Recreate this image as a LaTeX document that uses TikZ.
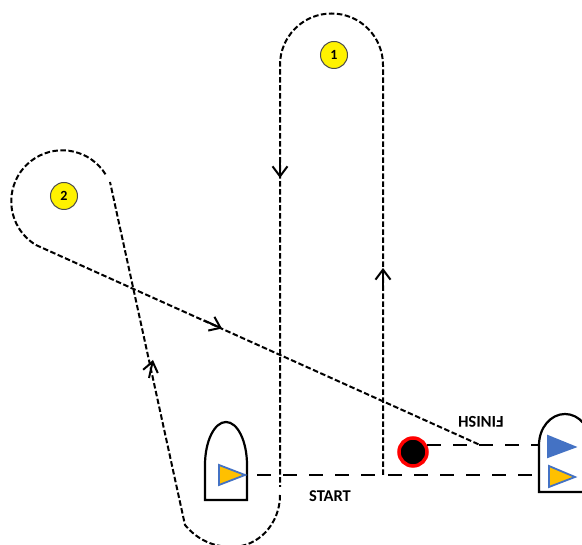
\documentclass[tikz,border=0pt]{standalone}
\usepackage{fontspec}
\setmainfont{Carlito}
\usetikzlibrary{arrows.meta}
\definecolor{flagblue}{HTML}{4472C4}
\definecolor{flagorange}{HTML}{FFC000}
\definecolor{markred}{HTML}{FF0000}

\begin{document}
\begin{tikzpicture}[x=1pt, y=1pt, >={Straight Barb[length=10pt, width=15pt, line width=2pt]},
    course/.style={draw=black, line width=2pt, dash pattern=on 5.5pt off 2.5pt},
    startline/.style={draw=black, line width=2.2pt, dash pattern=on 14pt off 12pt},
    barb/.style={->, draw=black, line width=2pt},
    boat/.style={draw=black, line width=2.2pt, fill=white},
    flag/.style={draw=flagblue, line width=1.8pt, line join=miter},
    buoy/.style={circle, draw=black!70, line width=1pt, fill=yellow, minimum size=27pt, inner sep=0pt, font=\bfseries\fontsize{14}{14}\selectfont},
    pinend/.style={circle, draw=markred, line width=3.5pt, fill=black, minimum size=28pt, inner sep=0pt},
    lab/.style={font=\bfseries\fontsize{16.5}{16.5}\selectfont, inner sep=0pt}]
    \useasboundingbox (0,0) rectangle (582,545);

    %define the marks
    \node[buoy] (m1) at (334,490) {1};
    \node[buoy] (m2) at (64,349) {2};
    \node[pinend] (p1) at (413,93) {};
    \node[lab] (start) at (330,49) {START};
    \node[lab, rotate=180] (finish) at (481,123) {FINISH};

    %define the points of the course
    \coordinate (s1) at (257,70);
    \coordinate (s2) at (383,70);
    \coordinate (s3) at (388,70);
    \coordinate (s4) at (539,70);
    \coordinate (f1) at (427,100);
    \coordinate (f2) at (480,100);
    \coordinate (f3) at (539,100);
    \coordinate (t1) at (383,480);
    \coordinate (t3) at (280,58);
    \coordinate (b1) at (280,50);
    \coordinate (b2) at (185,20);
    \coordinate (c1) at (110,363);
    \coordinate (c2) at (105.5,370.7);

    %define the arrows
    \coordinate (a1) at (280,385);
    \coordinate (a2) at (280,367);
    \coordinate (a3) at (383,258);
    \coordinate (a4) at (383,277);
    \coordinate (a5) at (149,167);
    \coordinate (a6) at (153,185);
    \coordinate (a7) at (204,224.6);
    \coordinate (a8) at (222,216.5);

    %define the course
    \path[course] (s2) -- (t1) arc (0:180:51.5) -- (t3);
    \path[course] (b1) arc (0:-90:48 and 52) .. controls (210,-2) and (195,8) .. (b2) -- (c1);
    \path[course] (c2) arc (32:239:51) -- (f2);
    \path[startline] (s1) -- (s2);
    \path[startline] (s3) -- (s4);
    \path[startline] (f1) -- (f3);

    %define the links
    \path (a1) edge[barb] (a2)
          (a3) edge[barb] (a4)
          (a5) edge[barb] (a6)
          (a7) edge[barb] (a8);

    %define the boats
    \draw[boat] (205,45) -- (205,80) arc (180:0:21 and 43) -- (247,45) -- cycle;
    \draw[boat] (539,53) -- (539,100) arc (180:0:26 and 31) -- (591,53) -- cycle;
    \draw[flag, fill=flagorange] (219,80) -- (219,60) -- (245,70) -- cycle;
    \draw[flag, fill=flagblue] (548,109) -- (548,88) -- (575,98) -- cycle;
    \draw[flag, fill=flagorange] (549,79) -- (549,58) -- (575,68) -- cycle;
\end{tikzpicture}
\end{document}
